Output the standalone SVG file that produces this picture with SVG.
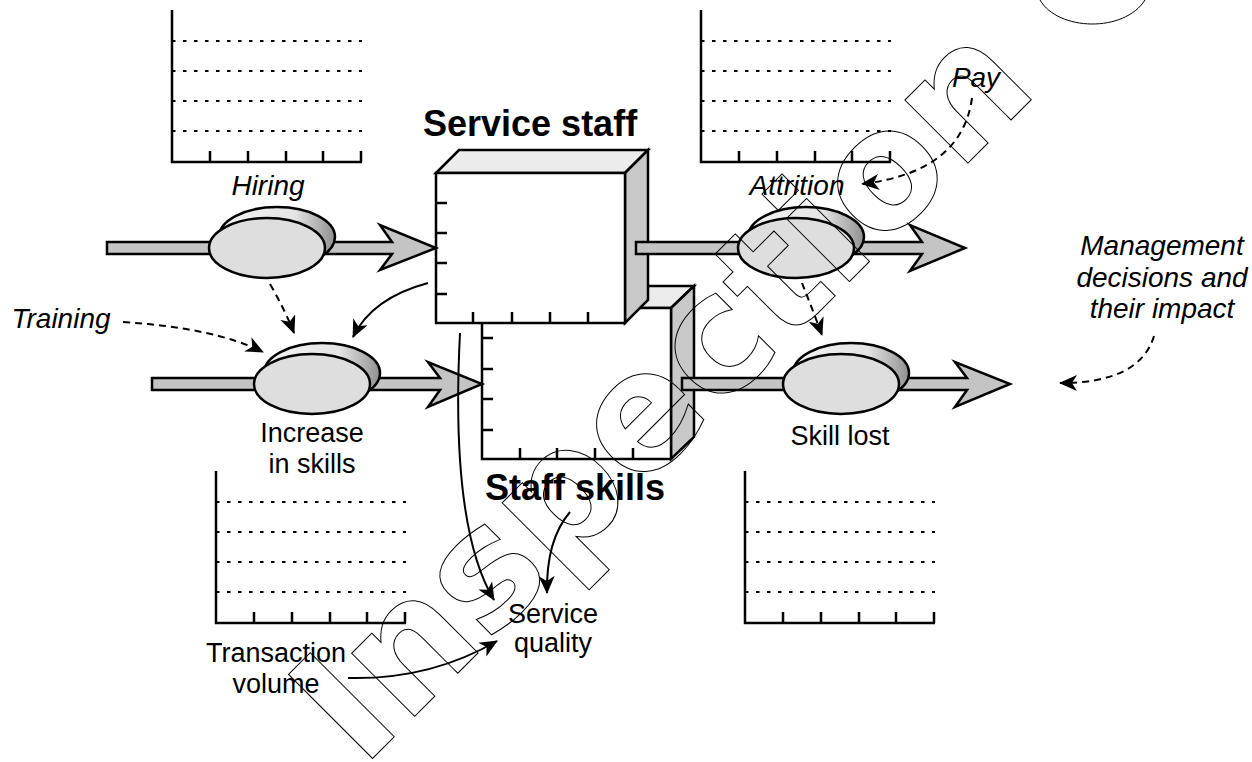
<svg xmlns="http://www.w3.org/2000/svg" width="1252" height="762" viewBox="0 0 1252 762">
  <style>
    .axis { fill: none; stroke: #000; stroke-width: 2.5; }
    .grid { fill: none; stroke: #000; stroke-width: 2; stroke-dasharray: 3.5 7.5; }
    .face { stroke: #000; stroke-width: 2.5; stroke-linejoin: miter; }
    .tick { stroke: #000; stroke-width: 2.5; }
    .pipe { fill: #c4c4c4; stroke: #000; stroke-width: 2.5; stroke-linejoin: miter; }
    .valve-front { fill: #dedede; stroke: #000; stroke-width: 2.5; }
    .valve-back { fill: url(#rim); stroke: #000; stroke-width: 2.5; }
    .lbl { font-family: "Liberation Sans", Arial, sans-serif; font-size: 27px; fill: #000; text-anchor: middle; }
    .it { font-style: italic; font-size: 28px; }
    .title { font-family: "Liberation Sans", Arial, sans-serif; font-size: 36px; font-weight: bold; fill: #000; }
    .link { fill: none; stroke: #000; stroke-width: 2; marker-end: url(#head); }
    .dash { stroke-dasharray: 7 5; }
    .mark { font-family: "DejaVu Sans", Verdana, sans-serif; font-size: 163px; font-weight: bold; fill: none; stroke: #000; stroke-width: 1; }
    .mark-line { fill: none; stroke: #000; stroke-width: 1; }
  </style>
  <defs>
    <linearGradient id="rim" x1="0" y1="0" x2="1" y2="0">
      <stop offset="0" stop-color="#f4f4f4"/>
      <stop offset="0.65" stop-color="#e4e4e4"/>
      <stop offset="1" stop-color="#909090"/>
    </linearGradient>
    <marker id="head" markerUnits="userSpaceOnUse" markerWidth="20" markerHeight="18" refX="17" refY="8" orient="auto">
      <path d="M0,0 L18,8 L0,16 L5,8 z" fill="#000"/>
    </marker>
    <!-- empty time chart: axes, dotted gridlines, ticks -->
    <g id="chart">
      <path class="grid" d="M0,31 H190 M0,61 H190 M0,91 H190 M0,121 H190"/>
      <path class="axis" d="M0,0 V152 H190"/>
      <path class="tick" d="M38,152 V141 M76,152 V141 M114,152 V141 M151,152 V141 M189,152 V141"/>
    </g>
    <!-- flow valve: rim behind, face in front -->
    <g id="valve">
      <ellipse class="valve-back" cx="10" cy="-11" rx="58" ry="30"/>
      <ellipse class="valve-front" cx="0" cy="0" rx="58" ry="30"/>
    </g>
  </defs>

  <rect width="1252" height="762" fill="#fff"/>

  <g id="charts">
    <use href="#chart" x="172" y="10"/>
    <use href="#chart" x="701" y="10"/>
    <use href="#chart" x="216" y="471"/>
    <use href="#chart" x="745" y="471"/>
  </g>

  <g id="staff-skills">
    <polygon class="face" fill="#ececec" points="482,308 505,286 694,286 671,308"/>
    <polygon class="face" fill="#c8c8c8" points="671,308 694,286 694,437 671,459"/>
    <rect class="face" fill="#fff" x="482" y="308" width="189" height="151"/>
    <path class="tick" d="M482,338 H493 M482,369 H493 M482,399 H493 M482,430 H493 M520,459 V448 M557,459 V448 M595,459 V448 M633,459 V448"/>
    <text class="title" x="485" y="500">Staff skills</text>
  </g>

  <g id="service-staff">
    <polygon class="face" fill="#ececec" points="436,173 459,150 648,150 625,173"/>
    <polygon class="face" fill="#c8c8c8" points="625,173 648,150 648,300 625,323"/>
    <rect class="face" fill="#fff" x="436" y="173" width="189" height="150"/>
    <path class="tick" d="M436,203 H447 M436,233 H447 M436,263 H447 M436,294 H447 M473,323 V312 M512,323 V312 M550,323 V312 M588,323 V312"/>
    <text class="title" x="423" y="136">Service staff</text>
  </g>

  <g id="hiring">
    <polygon class="pipe" points="107,242 392,242 380,225 436,248 380,270 392,254 107,254"/>
    <use href="#valve" x="267" y="248"/>
    <text class="lbl it" x="268" y="195">Hiring</text>
  </g>

  <g id="increase-in-skills">
    <polygon class="pipe" points="152,378 440,378 428,362 482,384 428,407 440,390 152,390"/>
    <use href="#valve" x="312" y="384"/>
    <text class="lbl" x="312" y="442">Increase</text>
    <text class="lbl" x="312" y="473">in skills</text>
  </g>

  <g id="attrition">
    <polygon class="pipe" points="636,242 922,242 910,225 965,248 910,271 922,254 636,254"/>
    <use href="#valve" x="796" y="248"/>
    <text class="lbl it" x="797" y="195">Attrition</text>
  </g>

  <g id="skill-lost">
    <polygon class="pipe" points="682,378 967,378 955,362 1010,384 955,407 967,390 682,390"/>
    <use href="#valve" x="841" y="384"/>
    <text class="lbl" x="840" y="445">Skill lost</text>
  </g>

  <g id="training"><text class="lbl it" x="61" y="328">Training</text></g>
  <g id="pay"><text class="lbl it" x="976" y="87">Pay</text></g>
  <g id="management">
    <text class="lbl it" x="1162" y="255">Management</text>
    <text class="lbl it" x="1162" y="287">decisions and</text>
    <text class="lbl it" x="1162" y="318">their impact</text>
  </g>
  <g id="service-quality">
    <text class="lbl" x="553" y="623">Service</text>
    <text class="lbl" x="553" y="652">quality</text>
  </g>
  <g id="transaction-volume">
    <text class="lbl" x="276" y="662">Transaction</text>
    <text class="lbl" x="276" y="693">volume</text>
  </g>

  <g id="connectors">
    <path class="link dash" d="M270,284 Q285,310 294,333"/>
    <path class="link dash" d="M123,322 Q215,328 263,352"/>
    <path class="link" d="M428,283 Q372,298 353,337"/>
    <path class="link" d="M460,333 C455,430 458,540 494,600"/>
    <path class="link" d="M570,512 Q546,540 547,593"/>
    <path class="link" d="M348,678 Q430,680 497,641"/>
    <path class="link dash" d="M972,98 Q962,172 862,184"/>
    <path class="link dash" d="M802,283 Q812,308 822,335"/>
    <path class="link dash" d="M1154,336 Q1140,383 1060,383"/>
  </g>

  <!-- outlined stamp across the sheet -->
  <g id="stamp">
    <text class="mark" transform="translate(362,769) rotate(-45)">Inspection</text>
    <path class="mark-line" d="M1040,0 C1058,31 1124,33 1145,0"/>
  </g>
</svg>
